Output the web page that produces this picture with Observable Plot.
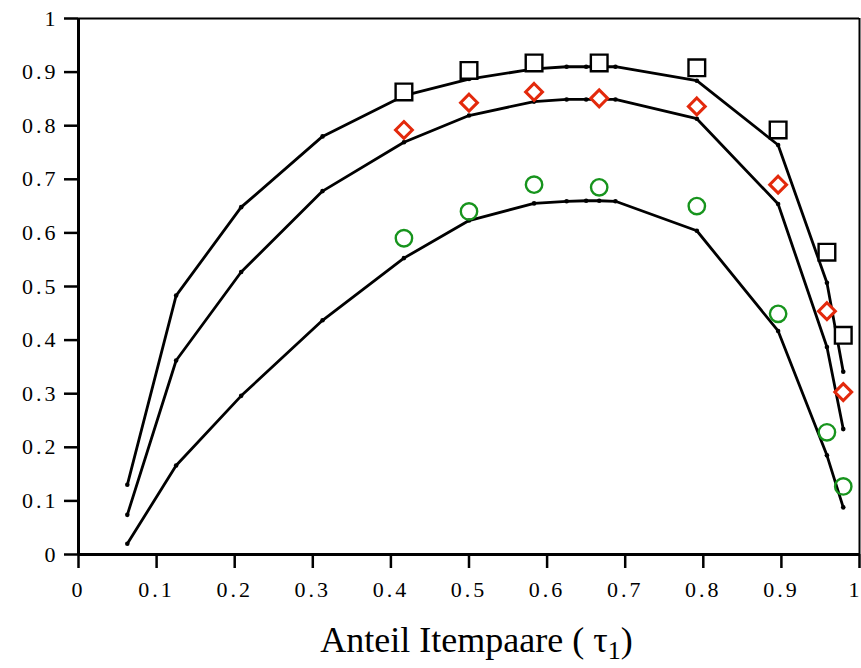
<!DOCTYPE html>
<html><head><meta charset="utf-8">
<script src="https://cdn.jsdelivr.net/npm/d3@7"></script>
<script src="https://cdn.jsdelivr.net/npm/@observablehq/plot@0.6"></script>
<style>body{margin:0;background:#fff}</style>
</head><body><div id="chart"></div>
<script>
const xLine = [0.0625, 0.125, 0.2083, 0.3125, 0.4167, 0.5, 0.5833, 0.625, 0.65, 0.6667, 0.6875, 0.7917, 0.8958, 0.9583, 0.9792];
const lineTop = [0.130, 0.483, 0.648, 0.780, 0.856, 0.887, 0.906, 0.910, 0.910, 0.910, 0.910, 0.884, 0.764, 0.507, 0.341];
const lineMid = [0.074, 0.362, 0.527, 0.678, 0.769, 0.819, 0.845, 0.849, 0.849, 0.849, 0.849, 0.813, 0.654, 0.387, 0.234];
const lineLow = [0.020, 0.166, 0.296, 0.437, 0.553, 0.623, 0.655, 0.659, 0.660, 0.660, 0.659, 0.604, 0.417, 0.185, 0.088];

const xMark = [0.4167, 0.5, 0.5833, 0.6667, 0.7917, 0.8958, 0.9583, 0.9792];
const squares = [0.863, 0.903, 0.917, 0.917, 0.908, 0.792, 0.564, 0.409];
const diamonds = [0.792, 0.843, 0.863, 0.851, 0.836, 0.690, 0.454, 0.303];
const circles = [0.590, 0.640, 0.690, 0.685, 0.650, 0.449, 0.228, 0.127];

const xTicks = [0, 0.1, 0.2, 0.3, 0.4, 0.5, 0.6, 0.7, 0.8, 0.9, 1];
const yTicks = [0, 0.1, 0.2, 0.3, 0.4, 0.5, 0.6, 0.7, 0.8, 0.9, 1];
const xLabel = "Anteil Itempaare ( τ";
const xLabelSub = "1";
const xLabelEnd = ")";

const lines = [
  ...xLine.map((x, i) => ({x, y: lineTop[i], s: "top"})),
  ...xLine.map((x, i) => ({x, y: lineMid[i], s: "mid"})),
  ...xLine.map((x, i) => ({x, y: lineLow[i], s: "low"}))
];
const sq = xMark.map((x, i) => ({x, y: squares[i]}));
const di = xMark.map((x, i) => ({x, y: diamonds[i]}));
const ci = xMark.map((x, i) => ({x, y: circles[i]}));

const font = "'Liberation Serif', 'DejaVu Serif', serif";

const plot = Plot.plot({
  width: 861,
  height: 668,
  marginLeft: 78,
  marginRight: 2,
  marginTop: 18,
  marginBottom: 114,
  style: {fontFamily: font, fontSize: "22px", background: "#fff", color: "#000"},
  x: {domain: [0, 1]},
  y: {domain: [0, 1]},
  marks: [
    Plot.ruleY([1], {stroke: "#000", strokeWidth: 2}),
    Plot.ruleX([1], {stroke: "#000", strokeWidth: 2}),
    Plot.axisX({ticks: xTicks, tickSize: 14, tickPadding: 13, tickFormat: d => String(d), label: null, strokeWidth: 2.5}),
    Plot.axisY({ticks: yTicks, tickSize: 14, tickPadding: 6, tickFormat: d => String(d), label: null, strokeWidth: 2.5}),
    Plot.ruleX([0], {stroke: "#000", strokeWidth: 3}),
    Plot.ruleY([0], {stroke: "#000", strokeWidth: 3}),
    Plot.line(lines, {x: "x", y: "y", z: "s", stroke: "#000", strokeWidth: 2.8, strokeLinejoin: "round"}),
    Plot.dot(lines, {x: "x", y: "y", r: 2.3, fill: "#000"}),
    Plot.dot(sq, {x: "x", y: "y", symbol: "square", r: 9.4, stroke: "#000", strokeWidth: 2.4, fill: "#fff"}),
    Plot.dot(di, {x: "x", y: "y", symbol: "diamond2", r: 7.6, stroke: "#e3290c", strokeWidth: 3, fill: "#fff"}),
    Plot.dot(ci, {x: "x", y: "y", symbol: "circle", r: 8.2, stroke: "#17941d", strokeWidth: 2.4, fill: "none"})
  ]
});

const svg = d3.select(plot);
svg.selectAll("g[aria-label='x-axis tick label'] text, g[aria-label='y-axis tick label'] text")
  .style("font-size", "22px")
  .style("font-family", font)
  .style("letter-spacing", "3px");
// keep the last x label inside the picture
svg.selectAll("g[aria-label='x-axis tick label'] text")
  .filter(function() { return this.textContent === "1"; })
  .attr("dx", -4);
const xs = plot.scale("x");
const t = svg.append("text")
  .attr("x", xs.apply(0.5) + 8)
  .attr("y", 652)
  .attr("text-anchor", "middle")
  .style("font-family", font)
  .style("font-size", "36px")
  .attr("fill", "#000");
t.append("tspan").text(xLabel);
t.append("tspan").attr("dy", 7).style("font-size", "26px").text(xLabelSub);
t.append("tspan").attr("dy", -7).text(xLabelEnd);

document.getElementById("chart").appendChild(plot);
</script>
</body></html>
